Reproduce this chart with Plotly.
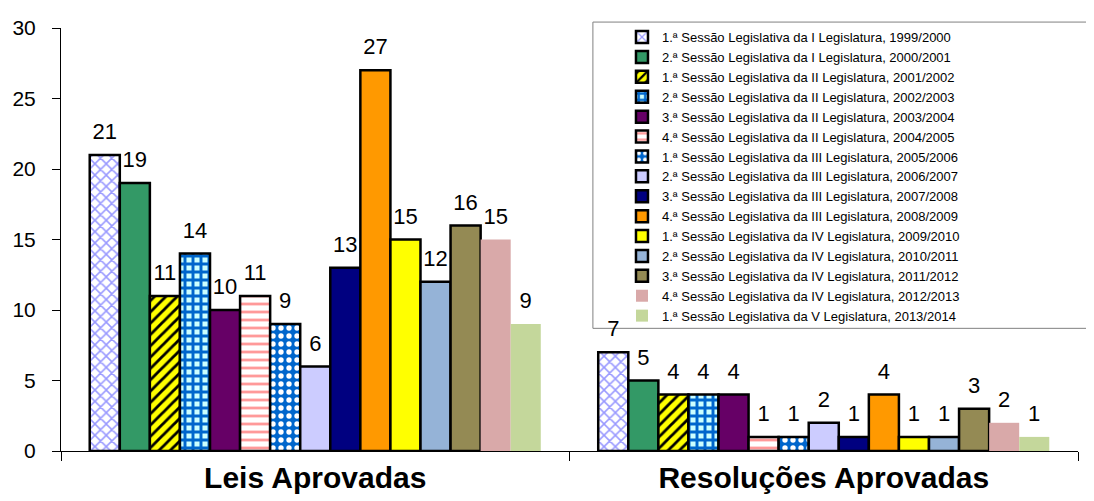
import plotly.graph_objects as go

categories = ["Leis Aprovadas", "Resoluções Aprovadas"]

sessions = [
    "1.ª Sessão Legislativa da I Legislatura, 1999/2000",
    "2.ª Sessão Legislativa da I Legislatura, 2000/2001",
    "1.ª Sessão Legislativa da II Legislatura, 2001/2002",
    "2.ª Sessão Legislativa da II Legislatura, 2002/2003",
    "3.ª Sessão Legislativa da II Legislatura, 2003/2004",
    "4.ª Sessão Legislativa da II Legislatura, 2004/2005",
    "1.ª Sessão Legislativa da III Legislatura, 2005/2006",
    "2.ª Sessão Legislativa da III Legislatura, 2006/2007",
    "3.ª Sessão Legislativa da III Legislatura, 2007/2008",
    "4.ª Sessão Legislativa da III Legislatura, 2008/2009",
    "1.ª Sessão Legislativa da IV Legislatura, 2009/2010",
    "2.ª Sessão Legislativa da IV Legislatura, 2010/2011",
    "3.ª Sessão Legislativa da IV Legislatura, 2011/2012",
    "4.ª Sessão Legislativa da IV Legislatura, 2012/2013",
    "1.ª Sessão Legislativa da V Legislatura, 2013/2014",
]

leis_aprovadas = [21, 19, 11, 14, 10, 11, 9, 6, 13, 27, 15, 12, 16, 15, 9]
resolucoes_aprovadas = [7, 5, 4, 4, 4, 1, 1, 2, 1, 4, 1, 1, 3, 2, 1]

y_ticks = [0, 5, 10, 15, 20, 25, 30]

# styles: (bgcolor, pattern shape, pattern fg, border width)
styles = [
    ("#ffffff", "x", "#9999ff", 2.5),
    ("#339966", "", None, 2.5),
    ("#ffff00", "/", "#000000", 2.5),
    ("#ccffff", "+", "#0066cc", 2.5),
    ("#660066", "", None, 2.5),
    ("#ffffff", "-", "#ff9999", 2.5),
    ("#0066cc", ".", "#ffffff", 2.5),
    ("#ccccff", "", None, 2.5),
    ("#000080", "", None, 2.5),
    ("#ff9900", "", None, 2.5),
    ("#ffff00", "", None, 2.5),
    ("#95b3d7", "", None, 2.5),
    ("#948a54", "", None, 2.5),
    ("#d9a9a9", "", None, 0),
    ("#c4d79b", "", None, 0),
]

FONT = "Arial, Liberation Sans, sans-serif"

fig = go.Figure()
for i, name in enumerate(sessions):
    bg, shape, fg, lw = styles[i]
    vals = [leis_aprovadas[i], resolucoes_aprovadas[i]]
    marker = dict(color=bg, line=dict(color="#000000", width=lw))
    if shape:
        sol = 0.6 if shape == "+" else 0.35
        marker["pattern"] = dict(shape=shape, fgcolor=fg, bgcolor=bg,
                                 size=8, solidity=sol, fillmode="replace")
    fig.add_trace(go.Bar(x=categories, y=vals, name=name, marker=marker,
                         hoverinfo="name+y"))

# value labels, grouped the same way as the bars
for i, name in enumerate(sessions):
    vals = [leis_aprovadas[i], resolucoes_aprovadas[i]]
    fig.add_trace(go.Scatter(
        x=categories, y=vals, mode="markers+text", orientation="v",
        marker=dict(size=15, opacity=0), text=[str(v) for v in vals],
        textposition="top center", cliponaxis=False, showlegend=False,
        hoverinfo="skip",
        textfont=dict(family=FONT, size=22, color="#000000"),
    ))

fig.update_layout(
    width=1086, height=493,
    margin=dict(l=53, r=16, t=20, b=50, autoexpand=False),
    paper_bgcolor="#ffffff", plot_bgcolor="#ffffff",
    barmode="group", bargap=0.113, bargroupgap=0,
    scattermode="group", scattergap=0.113,
    font=dict(family=FONT, color="#000000"),
    showlegend=True,
    legend=dict(
        x=0.5516, xanchor="left", y=1.014, yanchor="top",
        bgcolor="rgba(255,255,255,0)", borderwidth=0, maxheight=480,
        font=dict(family=FONT, size=13, color="#000000"),
    ),
    shapes=[dict(type="rect", xref="paper", yref="paper",
                 x0=0.523, x1=1.03, y0=0.29, y1=1.014,
                 line=dict(color="#808080", width=1), fillcolor="rgba(0,0,0,0)",
                 layer="below")],
)

fig.update_xaxes(
    showline=True, linecolor="#000000", linewidth=1,
    ticks="outside", tickson="boundaries", ticklen=9, tickcolor="#000000",
    tickfont=dict(family=FONT, size=30, color="#000000", weight="bold"),
    showgrid=False, zeroline=False, automargin=False,
)
fig.update_yaxes(
    range=[0, 30], tickvals=y_ticks,
    showline=True, linecolor="#000000", linewidth=1,
    ticks="outside", ticklen=8, tickcolor="#000000", ticklabelstandoff=12,
    tickfont=dict(family=FONT, size=21, color="#000000"),
    showgrid=False, zeroline=False, automargin=False,
)

fig.write_html("out.html")
